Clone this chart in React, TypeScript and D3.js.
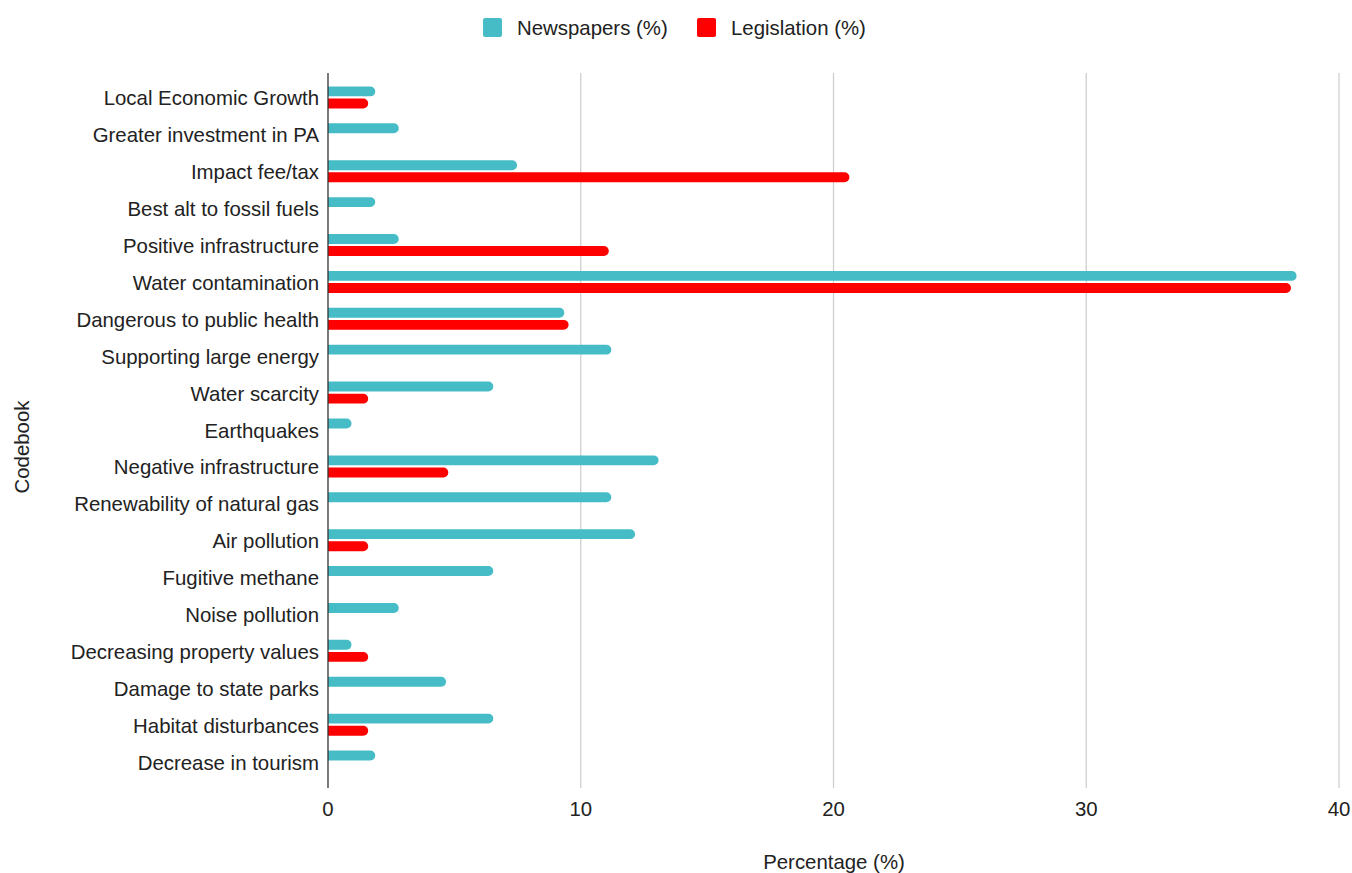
import React from "react";
import * as d3 from "d3";

const categories = [
  "Local Economic Growth",
  "Greater investment in PA",
  "Impact fee/tax",
  "Best alt to fossil fuels",
  "Positive infrastructure",
  "Water contamination",
  "Dangerous to public health",
  "Supporting large energy",
  "Water scarcity",
  "Earthquakes",
  "Negative infrastructure",
  "Renewability of natural gas",
  "Air pollution",
  "Fugitive methane",
  "Noise pollution",
  "Decreasing property values",
  "Damage to state parks",
  "Habitat disturbances",
  "Decrease in tourism",
];

const newspapers = [
  1.87, 2.8, 7.48, 1.87, 2.8, 38.32, 9.35, 11.21, 6.54, 0.93, 13.08, 11.21,
  12.15, 6.54, 2.8, 0.93, 4.67, 6.54, 1.87,
];

const legislation = [
  1.59, 0, 20.63, 0, 11.11, 38.1, 9.52, 0, 1.59, 0, 4.76, 0, 1.59, 0, 0, 1.59,
  0, 1.59, 0,
];

const seriesNames = ["Newspapers (%)", "Legislation (%)"];
const seriesColors = ["#46BDC6", "#FF0000"];
const xTicks = [0, 10, 20, 30, 40];

const W = 1352;
const H = 873;
const FONT = "'Liberation Sans', Arial, sans-serif";
const FS = 20.4;

// Bar with a rounded right end, flush on the left
function barPath(x0: number, x1: number, y: number, h: number, r: number) {
  const rr = Math.min(r, (x1 - x0), h / 2);
  if (x1 - x0 <= 0) return "";
  return [
    `M${x0},${y}`,
    `H${x1 - rr}`,
    `A${rr},${rr} 0 0 1 ${x1},${y + rr}`,
    `V${y + h - rr}`,
    `A${rr},${rr} 0 0 1 ${x1 - rr},${y + h}`,
    `H${x0}`,
    "Z",
  ].join(" ");
}

export default function App() {
  const x = d3.scaleLinear().domain([0, 40]).range([328, 1339]);
  const y = d3.scaleBand<string>().domain(categories).range([79, 780]).padding(0);
  const inner = d3
    .scaleBand<string>()
    .domain(seriesNames)
    .range([-11, 11])
    .paddingInner(0.18);

  const series = [newspapers, legislation];

  return (
    <svg
      width={W}
      height={H}
      style={{ position: "absolute", left: 0, top: 0, background: "#fff" }}
      fontFamily={FONT}
    >
      <rect width={W} height={H} fill="#fff" />

      {/* legend */}
      <g>
        <rect x={483} y={18} width={19} height={19} rx={2} fill={seriesColors[0]} />
        <text x={517} y={35} fontSize={FS} fill="#222">
          {seriesNames[0]}
        </text>
        <rect x={697} y={18} width={19} height={19} rx={2} fill={seriesColors[1]} />
        <text x={731} y={35} fontSize={FS} fill="#222">
          {seriesNames[1]}
        </text>
      </g>

      {/* vertical gridlines */}
      {xTicks.map((t) =>
        t === 0 ? null : (
          <line key={t} x1={x(t)} x2={x(t)} y1={73} y2={788} stroke="#cccccc" strokeWidth={1.2} />
        )
      )}

      {/* bars */}
      {categories.map((c, i) => {
        const cy = (y(c) as number) + y.bandwidth() / 2;
        return (
          <g key={c}>
            {series.map((vals, s) => (
              <path
                key={s}
                d={barPath(
                  x(0),
                  x(vals[i]),
                  cy + (inner(seriesNames[s]) as number),
                  inner.bandwidth(),
                  5
                )}
                fill={seriesColors[s]}
              />
            ))}
          </g>
        );
      })}

      {/* baseline axis */}
      <line x1={x(0)} x2={x(0)} y1={73} y2={788} stroke="#333" strokeWidth={1.3} />

      {/* category labels */}
      {categories.map((c) => (
        <text
          key={c}
          x={319}
          y={(y(c) as number) + y.bandwidth() / 2 + 8}
          textAnchor="end"
          fontSize={FS}
          fill="#222"
        >
          {c}
        </text>
      ))}

      {/* x tick labels */}
      {xTicks.map((t) => (
        <text key={t} x={x(t)} y={816} textAnchor="middle" fontSize={FS} fill="#222">
          {t}
        </text>
      ))}

      {/* axis titles */}
      <text x={834} y={869} textAnchor="middle" fontSize={FS} fill="#222">
        Percentage (%)
      </text>
      <text
        transform="translate(29,447) rotate(-90)"
        textAnchor="middle"
        fontSize={FS}
        fill="#222"
      >
        Codebook
      </text>
    </svg>
  );
}
